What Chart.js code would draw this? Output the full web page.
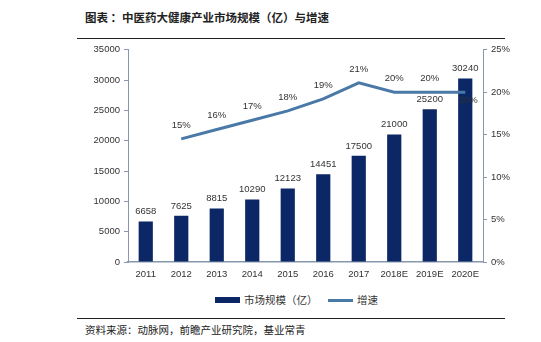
<!DOCTYPE html>
<html>
<head>
<meta charset="utf-8">
<script src="https://cdn.jsdelivr.net/npm/chart.js@4"></script>
<style>
  body { margin: 0; background: #fff; width: 541px; height: 342px; position: relative; overflow: hidden; font-family: "Noto Sans CJK SC", sans-serif; }
  .title { position: absolute; left: 85px; top: 9px; font-size: 11.5px; font-weight: bold; color: #222; white-space: nowrap; }
  .rule { position: absolute; left: 77px; width: 428px; height: 1px; background: #222; }
  #wrap { position: absolute; left: 0; top: 40px; width: 541px; height: 250px; }
  .legend { position: absolute; top: 292px; left: 0; width: 541px; font-size: 10.5px; color: #333; }
  .legend span { position: absolute; white-space: nowrap; }
  .src { position: absolute; left: 85px; top: 322px; font-size: 10.5px; color: #222; white-space: nowrap; }
</style>
</head>
<body>
<div class="title">图表 ：中医药大健康产业市场规模（亿）与增速</div>
<div class="rule" style="top:38px"></div>
<div id="wrap"><canvas id="market-chart-id"></canvas></div>
<div class="legend">
  <span style="left:215px;top:5px;width:25px;height:6px;background:#0b2765"></span>
  <span style="left:244px;top:0">市场规模（亿）</span>
  <span style="left:328px;top:7px;width:25px;height:3px;background:#4a79a8"></span>
  <span style="left:357px;top:0">增速</span>
</div>
<div class="rule" style="top:318px"></div>
<div class="src">资料来源：动脉网，前瞻产业研究院，基业常青</div>
<script>
// chart data
const years = ['2011', '2012', '2013', '2014', '2015', '2016', '2017', '2018E', '2019E', '2020E'];
const marketSize = [6658, 7625, 8815, 10290, 12123, 14451, 17500, 21000, 25200, 30240];
const growthRate = [null, 14.5, 15.6, 16.7, 17.8, 19.2, 21.1, 20.0, 20.0, 20.0];
const growthText = [null, '15%', '16%', '17%', '18%', '19%', '21%', '20%', '20%', '20%'];
const leftTicks = [0, 5000, 10000, 15000, 20000, 25000, 30000, 35000];
const rightTicks = [0, 5, 10, 15, 20, 25];

const axisColor = '#8797ad';
const tickFont = { family: 'Liberation Sans', size: 9.5 };

// value labels over bars and line points
const valueLabels = {
  id: 'valueLabels',
  afterDatasetsDraw(chart) {
    const ctx = chart.ctx;
    ctx.save();
    ctx.font = '9.5px "Liberation Sans"';
    ctx.fillStyle = '#333';
    ctx.textAlign = 'center';
    ctx.textBaseline = 'bottom';
    chart.getDatasetMeta(0).data.forEach((bar, i) => {
      ctx.fillText(String(marketSize[i]), bar.x, bar.y - 5);
    });
    chart.getDatasetMeta(1).data.forEach((pt, i) => {
      if (growthRate[i] == null) return;
      if (i === years.length - 1) {
        ctx.textBaseline = 'top';
        ctx.fillText(growthText[i], pt.x + 3, pt.y + 3);
      } else {
        ctx.textBaseline = 'bottom';
        ctx.fillText(growthText[i], pt.x, pt.y - 9);
      }
    });
    ctx.restore();
  }
};

const chartCtx = document.getElementById('market-chart-id');
new Chart(chartCtx, {
  type: 'bar',
  data: {
    labels: years,
    datasets: [
      {
        label: '市场规模（亿）',
        data: marketSize,
        backgroundColor: '#0b2765',
        barPercentage: 0.4,
        categoryPercentage: 1,
        yAxisID: 'y',
        order: 2
      },
      {
        type: 'line',
        label: '增速',
        data: growthRate,
        borderColor: '#4a79a8',
        borderWidth: 3,
        pointRadius: 0,
        tension: 0,
        yAxisID: 'y1',
        order: 1
      }
    ]
  },
  options: {
    responsive: true,
    maintainAspectRatio: false,
    animation: false,
    layout: { padding: { top: 7, left: 0, right: 0, bottom: 0 } },
    plugins: {
      legend: { display: false },
      tooltip: { enabled: false }
    },
    scales: {
      x: {
        grid: { display: false, drawTicks: false },
        border: { display: true, color: axisColor, width: 1.5 },
        ticks: { color: '#333', font: tickFont, padding: 7, maxRotation: 0, autoSkip: false },
        afterFit: s => { s.height = 28; }
      },
      y: {
        position: 'left',
        min: 0,
        max: 35000,
        afterBuildTicks: s => { s.ticks = leftTicks.map(v => ({ value: v })); },
        grid: { drawOnChartArea: false, tickLength: 4, color: axisColor },
        border: { display: true, color: axisColor },
        ticks: { color: '#333', font: tickFont, padding: 4, callback: v => String(v) },
        afterFit: s => { s.width = 128; }
      },
      y1: {
        position: 'right',
        min: 0,
        max: 25,
        afterBuildTicks: s => { s.ticks = rightTicks.map(v => ({ value: v })); },
        grid: { drawOnChartArea: false, tickLength: 4, color: axisColor },
        border: { display: true, color: axisColor },
        ticks: { color: '#333', font: tickFont, padding: 4, callback: v => v + '%' },
        afterFit: s => { s.width = 58; }
      }
    }
  },
  plugins: [valueLabels]
});
</script>
</body>
</html>
